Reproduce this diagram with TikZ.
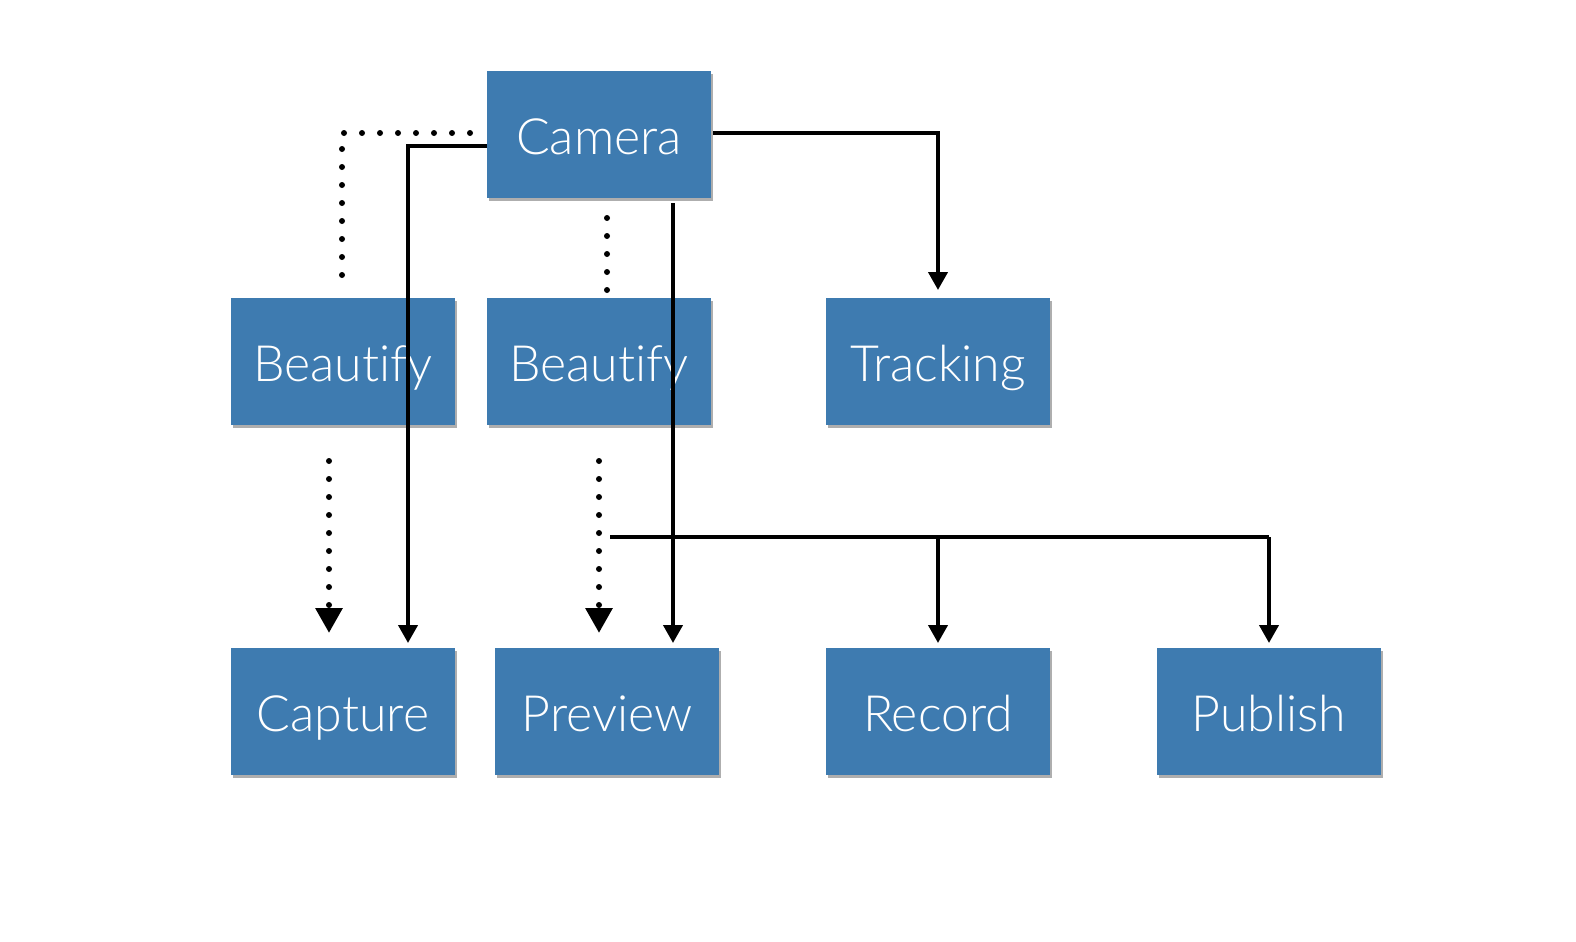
\documentclass[tikz,border=0pt]{standalone}
\usepackage{fontspec}
\setmainfont{Lato}[UprightFont=* Light, Ligatures={NoCommon}]
\usetikzlibrary{arrows.meta,shadows}
\definecolor{boxblue}{RGB}{62,123,176}
\tikzset{
  blk/.style={fill=boxblue, draw=none, minimum width=112pt, minimum height=63.5pt,
    inner sep=0pt, text=white, font=\fontsize{25}{28}\selectfont,
    text height=20pt, text depth=0pt,
    drop shadow={shadow xshift=1pt, shadow yshift=-1.5pt, opacity=0.45, fill=black!70}},
  solidcon/.style={line width=2pt, -{Triangle[length=9pt,width=9.5pt]}},
  solidline/.style={line width=2pt},
  dotcon/.style={line width=3pt, line cap=round, dash pattern=on 0pt off 9pt,
    -{Triangle[length=12.5pt,width=13pt]}},
  dotline/.style={line width=3pt, line cap=round, dash pattern=on 0pt off 9pt},
}
\begin{document}
\begin{tikzpicture}[x=0.5pt,y=-0.5pt]
\useasboundingbox (0,0) rectangle (1576,942);
\fill[white] (0,0) rectangle (1576,942);
% boxes
\node[blk] (cam) at (599,134) {Camera};
\node[blk] (bea1) at (343,361) {Beautify};
\node[blk] (bea2) at (599,361) {Beautify};
\node[blk] (trk) at (938,361) {Tracking};
\node[blk] (cap) at (343,711) {Capture};
\node[blk] (pre) at (607,711) {Preview};
\node[blk] (rec) at (938,711) {Record};
\node[blk] (pub) at (1269,711) {Publish};
% coordinates
\coordinate (d1a) at (470,133);
\coordinate (d1b) at (342,278);
\coordinate (d2a) at (607,218);
\coordinate (d2b) at (607,291);
\coordinate (s1a) at (487,146);
\coordinate (s1b) at (408,643);
\coordinate (s2a) at (673,203);
\coordinate (s2b) at (673,643);
\coordinate (s3a) at (713,133);
\coordinate (s3b) at (938,290);
\coordinate (d3a) at (329,461);
\coordinate (d3b) at (329,633);
\coordinate (d4a) at (599,461);
\coordinate (d4b) at (599,633);
\coordinate (hA) at (610,537);
\coordinate (hB) at (1269,537);
\coordinate (rB) at (938,643);
\coordinate (pB) at (1269,643);
% dotted from camera
\draw[dotline] (d1a) -| (d1b);
\draw[dotline] (d2a) -- (d2b);
% solid from camera
\draw[solidcon] (s1a) -| (s1b);
\draw[solidcon] (s2a) -- (s2b);
\draw[solidcon] (s3a) -| (s3b);
% dotted to bottom
\draw[dotcon] (d3a) -- (d3b);
\draw[dotcon] (d4a) -- (d4b);
% horizontal branch
\draw[solidline] (hA) -- (hB);
\draw[solidcon] (hB) -- (pB);
\draw[solidcon] (rB |- hA) -- (rB);
\end{tikzpicture}
\end{document}
